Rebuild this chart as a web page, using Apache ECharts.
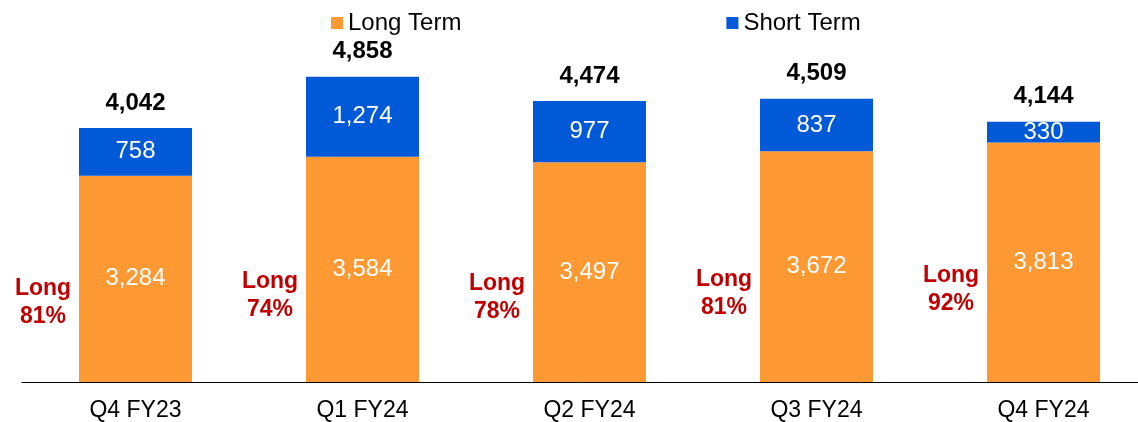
<!DOCTYPE html>
<html>
<head>
<meta charset="utf-8">
<script src="https://cdn.jsdelivr.net/npm/echarts@6/dist/echarts.min.js"></script>
<style>
  html, body { margin: 0; padding: 0; background: #fff; }
  #chart { width: 1138px; height: 422px; }
</style>
</head>
<body>
<div id="chart"></div>
<script>
// 数据
const categories = ['Q4 FY23', 'Q1 FY24', 'Q2 FY24', 'Q3 FY24', 'Q4 FY24']
const longTerm = [3284, 3584, 3497, 3672, 3813]
const shortTerm = [758, 1274, 977, 837, 330]
const totals = [4042, 4858, 4474, 4509, 4144]
const longShare = [81, 74, 78, 81, 92]

const font = '"Liberation Sans", Arial, sans-serif'
const fmt = v => v.toLocaleString('en-US')

const chart = echarts.init(document.getElementById('chart'))
const option = {
  animation: false,
  textStyle: { fontFamily: font },
  grid: { left: 22, right: -19, top: 5, bottom: 40, outerBoundsMode: 'none' },
  legend: {
    data: ['Long Term', 'Short Term'],
    left: 331,
    top: 11,
    padding: 0,
    icon: 'rect',
    itemWidth: 12,
    itemHeight: 12,
    itemGap: 265,
    textStyle: { fontSize: 24, color: '#000', fontFamily: font }
  },
  xAxis: {
    type: 'category',
    data: categories,
    axisTick: { show: false },
    axisLine: { lineStyle: { color: '#000', width: 1 } },
    axisLabel: { fontSize: 23, color: '#000', margin: 17, fontFamily: font }
  },
  yAxis: { type: 'value', min: 0, max: 6000, show: false },
  series: [
    {
      // 左侧 "Long xx%" 标注
      name: 'share',
      type: 'bar',
      data: longTerm,
      barWidth: 113,
      barGap: '-100%',
      silent: true,
      itemStyle: { color: 'rgba(0,0,0,0)' },
      label: {
        show: true,
        position: [-36, '61.5%'],
        align: 'center',
        verticalAlign: 'middle',
        formatter: p => 'Long\n' + longShare[p.dataIndex] + '%',
        color: '#C00000',
        fontWeight: 'bold',
        fontSize: 23,
        lineHeight: 28,
        fontFamily: font
      }
    },
    {
      name: 'Long Term',
      type: 'bar',
      stack: 'total',
      data: longTerm,
      barWidth: 113,
      barGap: '-100%',
      itemStyle: { color: '#FF9933' },
      label: {
        show: true,
        position: 'inside',
        formatter: p => fmt(p.value),
        color: '#fff',
        fontSize: 24,
        fontFamily: font
      }
    },
    {
      name: 'Short Term',
      type: 'bar',
      stack: 'total',
      data: shortTerm,
      barWidth: 113,
      barGap: '-100%',
      itemStyle: { color: '#0059D6' },
      label: {
        show: true,
        position: 'inside',
        formatter: p => fmt(p.value),
        color: '#fff',
        fontSize: 24,
        fontFamily: font
      }
    },
    {
      // 顶部合计
      name: 'total',
      type: 'bar',
      stack: 'total',
      data: totals.map(() => 0),
      barWidth: 113,
      barGap: '-100%',
      silent: true,
      itemStyle: { color: 'rgba(0,0,0,0)' },
      label: {
        show: true,
        position: 'top',
        distance: 13,
        formatter: p => fmt(totals[p.dataIndex]),
        color: '#000',
        fontWeight: 'bold',
        fontSize: 24,
        fontFamily: font
      }
    }
  ]
}
chart.setOption(option)
</script>
</body>
</html>
